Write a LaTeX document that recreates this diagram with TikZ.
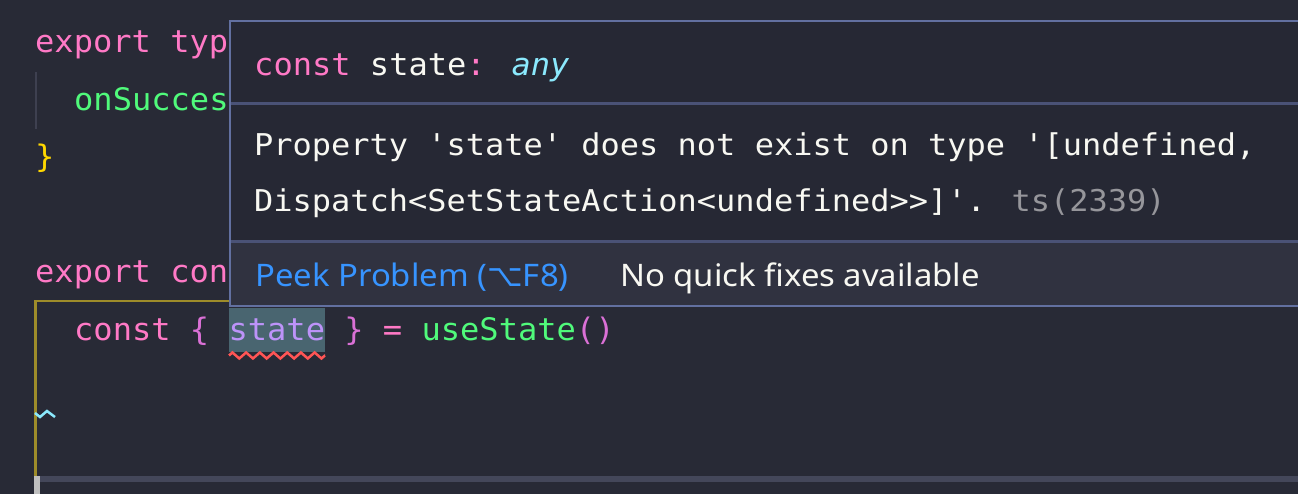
\documentclass[tikz,border=0pt]{standalone}
\usepackage{fontspec}
\setmainfont[FakeStretch=1.06]{Noto Sans}
\newfontfamily\codefont[FakeStretch=1.034]{DejaVu Sans Mono}
\newfontfamily\msgfont[FakeStretch=1.066]{DejaVu Sans Mono}
\newfontfamily\symfont{DejaVu Sans}
\usetikzlibrary{decorations.pathmorphing}

\definecolor{edbg}{RGB}{40,42,54}
\definecolor{popbg}{RGB}{38,40,52}
\definecolor{footbg}{RGB}{48,50,64}
\definecolor{popline}{RGB}{98,112,160}
\definecolor{sepline}{RGB}{74,82,118}
\definecolor{fg}{RGB}{248,248,242}
\definecolor{kwpink}{RGB}{255,121,198}
\definecolor{fngreen}{RGB}{80,250,123}
\definecolor{tycyan}{RGB}{139,233,253}
\definecolor{brgold}{RGB}{255,215,0}
\definecolor{brorchid}{RGB}{218,112,214}
\definecolor{varpurple}{RGB}{189,147,249}
\definecolor{olive}{RGB}{158,140,42}
\definecolor{hlbg}{RGB}{73,101,112}
\definecolor{errred}{RGB}{255,85,85}
\definecolor{guide}{RGB}{62,64,80}
\definecolor{barbg}{RGB}{68,71,90}
\definecolor{dimgrey}{RGB}{150,150,155}
\definecolor{linkblue}{RGB}{55,148,255}

\begin{document}
\begin{tikzpicture}[x=1pt, y=-1pt,
    code/.style={anchor=base west, inner sep=0pt, font=\codefont\fontsize{31}{31}\selectfont},
    msg/.style={anchor=base west, inner sep=0pt, text=fg, font=\msgfont\fontsize{30}{30}\selectfont},
    ui/.style={anchor=base west, inner sep=0pt, font=\fontsize{31}{31}\selectfont}]

    \useasboundingbox (0,0) rectangle (1298,494);
    \clip (0,0) rectangle (1298,494);
    \fill[edbg] (0,0) rectangle (1298,494);

    % Code lines left of the popup
    \node[code, text=kwpink] (l1) at (35,53) {export typ};
    \draw[guide, line width=2.5pt] (36,72) -- (36,129);
    \node[code, text=fngreen] (l2) at (74,110.5) {onSucces};
    \node[code, text=brgold] (l3) at (35,168) {\}};
    \node[code, text=kwpink] (l5) at (35,283) {export con};

    % Bracket pair guide and bottom bar
    \draw[olive, line width=2.5pt] (229,301) -- (35.5,301) -- (35.5,476);
    \fill[barbg] (35,476) rectangle (1298,482);
    \fill[black!25!white] (34,476) rectangle (40,494);

    % Line with the error
    \fill[hlbg] (229,308) rectangle (325,352);
    \node[code] (l6) at (74,340.5) {\textcolor{kwpink}{const} \textcolor{brorchid}{\{} \textcolor{varpurple}{state} \textcolor{brorchid}{\}} \textcolor{kwpink}{=} \textcolor{fngreen}{useState}\textcolor{brorchid}{()}};
    \draw[errred, line width=2.5pt, decorate, decoration={zigzag, segment length=13.7pt, amplitude=3pt}] (229,355.5) -- (325,355.5);
    \draw[tycyan, line width=2.5pt] (35,413) -- (40,417) -- (47,411) -- (55,417);

    % Hover popup
    \fill[popbg] (229,20) rectangle (1300,306);
    \fill[footbg] (229,242) rectangle (1300,306);
    \draw[sepline, line width=2.5pt] (229,103.5) -- (1300,103.5);
    \draw[sepline, line width=2.5pt] (229,241.5) -- (1300,241.5);
    \draw[popline, line width=2pt] (1300,21) -- (230,21) -- (230,306) -- (1300,306);

    \node[code, text=fg] (sig) at (254,76) {\textcolor{kwpink}{const} state\textcolor{kwpink}{:} \textcolor{tycyan}{\itshape any}};
    \node[msg] (err1) at (254,156) {Property 'state' does not exist on type '[undefined,};
    \node[msg] (err2) at (254,212) {Dispatch<SetStateAction<undefined>>]'. \textcolor{dimgrey}{ts(2339)}};

    \node[ui, text=linkblue] (peek) at (255,287) {Peek Problem ({\symfont ⌥}F8)};
    \node[ui, text=fg] (nofix) at (620,287) {No quick fixes available};

\end{tikzpicture}
\end{document}
